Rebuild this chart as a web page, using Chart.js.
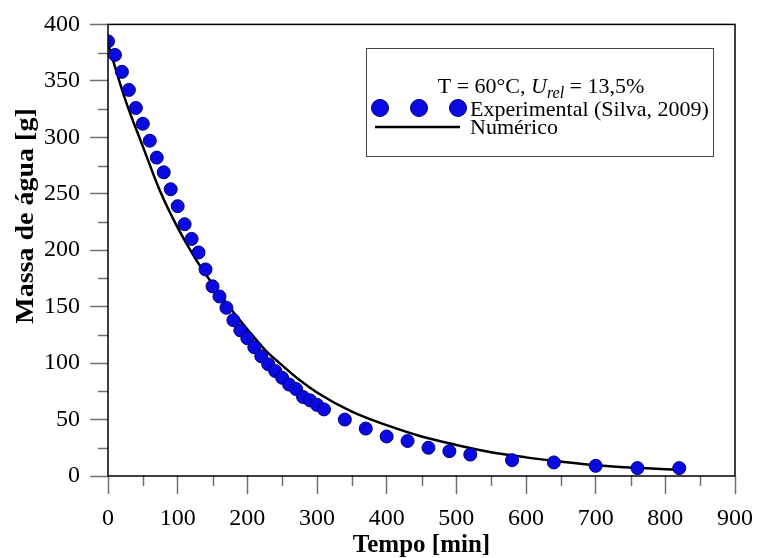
<!DOCTYPE html>
<html>
<head>
<meta charset="utf-8">
<script src="https://cdn.jsdelivr.net/npm/chart.js@4"></script>
<style>
  html, body { margin: 0; padding: 0; background: #fff; }
  #wrap { width: 763px; height: 558px; }
</style>
</head>
<body>
<div id="wrap"><canvas id="chart" width="763" height="558"></canvas></div>
<script>
// Experimental points (Silva, 2009)
const expTime = [0, 10, 20, 30, 40, 50, 60, 70, 80, 90, 100, 110, 120, 130, 140, 150,
  160, 170, 180, 190, 200, 210, 220, 230, 240, 250, 260, 270, 280, 290, 300, 310,
  340, 370, 400, 430, 460, 490, 520, 580, 640, 700, 760, 820];
const expMass = [385, 373, 358, 342, 326, 312, 297, 282, 269, 254, 239, 223, 210, 198, 183, 168,
  159, 149, 138, 129, 122, 114, 106, 99, 93, 87, 81, 77, 70, 67, 63, 59,
  50, 42, 35, 31, 25, 22, 19, 14, 12, 9, 7, 7];

// Numerical curve
const numTime = [0, 25, 50, 75, 100, 125, 150, 175, 200, 225, 250, 275, 300,
  350, 400, 450, 500, 550, 600, 650, 700, 760, 820];
const numMass = [383, 333, 292, 252, 220, 193, 170, 149, 130, 112, 98, 85, 74,
  57, 45, 35, 27.5, 21, 16.5, 12.8, 9.6, 7.2, 5.5];

// Axis ticks
const xTicks = [0, 100, 200, 300, 400, 500, 600, 700, 800, 900];
const yTicks = [0, 50, 100, 150, 200, 250, 300, 350, 400];
const xMinor = [50, 150, 250, 350, 450, 550, 650, 750, 850];
const yMinor = [25, 75, 125, 175, 225, 275, 325, 375];

const SERIF = '"Liberation Serif", "Times New Roman", serif';
const DOT_FILL = '#0a0ae0';
const DOT_EDGE = '#00007a';
const TICK_GREY = '#707070';

// frame, minor ticks, y title and the boxed legend
const decorPlugin = {
  id: 'decor',
  afterDraw(chart) {
    const { ctx, chartArea: a, scales: { x, y } } = chart;
    ctx.save();

    ctx.strokeStyle = TICK_GREY;
    ctx.lineWidth = 1.5;
    ctx.beginPath();
    xMinor.forEach(v => {
      const px = Math.round(x.getPixelForValue(v)) + 0.5;
      ctx.moveTo(px, a.bottom);
      ctx.lineTo(px, a.bottom + 10);
    });
    yMinor.forEach(v => {
      const py = Math.round(y.getPixelForValue(v)) + 0.5;
      ctx.moveTo(a.left, py);
      ctx.lineTo(a.left - 10, py);
    });
    ctx.stroke();

    ctx.strokeStyle = '#000';
    ctx.lineWidth = 1.5;
    ctx.strokeRect(a.left, a.top, a.right - a.left, a.bottom - a.top);

    // y axis title (stretched a little along its length, like the source)
    ctx.fillStyle = '#000';
    ctx.font = 'bold 25px ' + SERIF;
    ctx.textAlign = 'center';
    ctx.textBaseline = 'middle';
    ctx.translate(27, 216);
    ctx.rotate(-Math.PI / 2);
    ctx.scale(1.12, 1);
    ctx.fillText('Massa de água [g]', 0, 0);
    ctx.setTransform(1, 0, 0, 1, 0, 0);

    // legend box
    ctx.strokeStyle = '#444';
    ctx.lineWidth = 1;
    ctx.strokeRect(366.5, 48.5, 347, 108);

    ctx.textAlign = 'left';
    ctx.textBaseline = 'alphabetic';
    const parts = [
      { t: 'T = 60°C, ', f: '22px ' + SERIF, dy: 0 },
      { t: 'U', f: 'italic 22px ' + SERIF, dy: 0 },
      { t: 'rel', f: 'italic 16px ' + SERIF, dy: 5 },
      { t: ' = 13,5%', f: '22px ' + SERIF, dy: 0 }
    ];
    let total = 0;
    parts.forEach(p => { ctx.font = p.f; p.w = ctx.measureText(p.t).width; total += p.w; });
    let cx = 541 - total / 2;
    parts.forEach(p => { ctx.font = p.f; ctx.fillText(p.t, cx, 93 + p.dy); cx += p.w; });

    [380, 419, 458].forEach(px => {
      ctx.beginPath();
      ctx.arc(px, 108, 8.5, 0, Math.PI * 2);
      ctx.fillStyle = DOT_FILL;
      ctx.fill();
      ctx.strokeStyle = DOT_EDGE;
      ctx.lineWidth = 1;
      ctx.stroke();
    });
    ctx.strokeStyle = '#000';
    ctx.lineWidth = 2.5;
    ctx.beginPath();
    ctx.moveTo(375, 127);
    ctx.lineTo(460, 127);
    ctx.stroke();

    ctx.fillStyle = '#000';
    ctx.font = '22px ' + SERIF;
    ctx.fillText('Experimental (Silva, 2009)', 470, 116);
    ctx.fillText('Numérico', 470, 134);

    ctx.restore();
  }
};

new Chart(document.getElementById('chart'), {
  type: 'scatter',
  data: {
    datasets: [
      {
        label: 'Experimental (Silva, 2009)',
        data: expTime.map((t, i) => ({ x: t, y: expMass[i] })),
        pointRadius: 6.5,
        pointBackgroundColor: DOT_FILL,
        pointBorderColor: DOT_EDGE,
        pointBorderWidth: 1,
        order: 1
      },
      {
        label: 'Numérico',
        data: numTime.map((t, i) => ({ x: t, y: numMass[i] })),
        showLine: true,
        borderColor: '#000',
        borderWidth: 2.5,
        pointRadius: 0,
        cubicInterpolationMode: 'monotone',
        order: 2
      }
    ]
  },
  options: {
    responsive: false,
    animation: false,
    layout: { padding: { top: 24, right: 23, left: 0, bottom: 0 } },
    plugins: { legend: { display: false }, tooltip: { enabled: false } },
    scales: {
      x: {
        type: 'linear',
        min: 0,
        max: 900,
        afterBuildTicks: s => { s.ticks = xTicks.map(v => ({ value: v })); },
        afterFit: s => { s.height = 82; },
        grid: { drawOnChartArea: false, tickLength: 18, tickColor: TICK_GREY, tickWidth: 1.5 },
        border: { display: false },
        ticks: { color: '#000', padding: 10, font: { family: SERIF, size: 24 }, maxRotation: 0 },
        title: {
          display: true,
          text: 'Tempo [min]',
          color: '#000',
          padding: 0,
          font: { family: SERIF, size: 25, weight: 'bold', lineHeight: 1 }
        }
      },
      y: {
        type: 'linear',
        min: 0,
        max: 400,
        afterBuildTicks: s => { s.ticks = yTicks.map(v => ({ value: v })); },
        afterFit: s => { s.width = 108; },
        grid: { drawOnChartArea: false, tickLength: 18, tickColor: TICK_GREY, tickWidth: 1.5 },
        border: { display: false },
        ticks: { color: '#000', padding: 10, font: { family: SERIF, size: 24 } }
      }
    }
  },
  plugins: [decorPlugin]
});
</script>
</body>
</html>
